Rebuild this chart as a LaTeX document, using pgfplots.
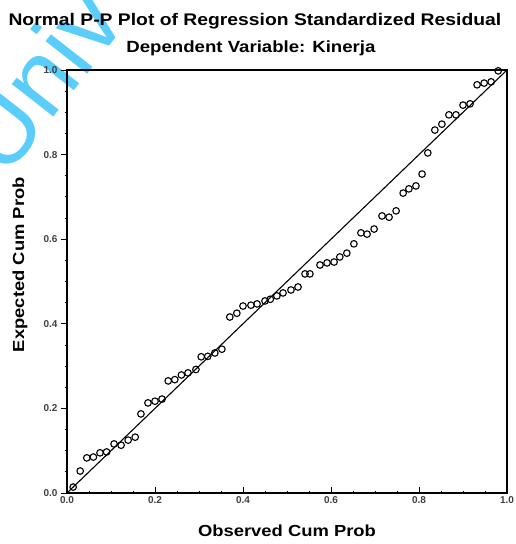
\documentclass[border=0pt]{standalone}
\usepackage{pgfplots}
\pgfplotsset{compat=1.18}
\usepackage{fontspec}
\setmainfont{Liberation Sans}
\newfontfamily\wide[FakeStretch=1.15]{Liberation Sans}
\definecolor{wm}{RGB}{90,205,250}

\pgfplotstableread{
x y
0.014 0.014
0.030 0.052
0.045 0.083
0.060 0.085
0.075 0.095
0.090 0.097
0.107 0.116
0.123 0.113
0.139 0.125
0.155 0.132
0.168 0.187
0.184 0.213
0.200 0.217
0.216 0.222
0.230 0.265
0.245 0.268
0.260 0.279
0.275 0.284
0.293 0.292
0.305 0.322
0.320 0.323
0.336 0.331
0.352 0.340
0.370 0.416
0.386 0.425
0.400 0.442
0.418 0.444
0.432 0.447
0.450 0.454
0.462 0.458
0.477 0.466
0.491 0.473
0.509 0.480
0.525 0.487
0.541 0.518
0.552 0.518
0.575 0.539
0.591 0.544
0.607 0.546
0.620 0.558
0.636 0.567
0.652 0.589
0.668 0.615
0.682 0.612
0.698 0.624
0.716 0.655
0.732 0.652
0.748 0.667
0.764 0.709
0.777 0.719
0.793 0.726
0.807 0.754
0.820 0.804
0.836 0.858
0.852 0.872
0.868 0.894
0.884 0.894
0.900 0.917
0.916 0.920
0.932 0.965
0.948 0.969
0.964 0.972
0.980 0.998
}\pp

\begin{document}
\begin{tikzpicture}
\useasboundingbox (-67pt,-51pt) rectangle (449pt,493pt);
% scanned watermark across the top-left corner (behind the chart)
\node[rotate=52, anchor=base west, inner sep=0pt, text=wm, font=\fontsize{100}{100}\selectfont] at (-62pt,313pt) {Univ};
\begin{axis}[
    scale only axis,
    width=440pt, height=423pt,
    xmin=0, xmax=1, ymin=0, ymax=1,
    xtick={0,0.2,0.4,0.6,0.8,1},
    ytick={0,0.2,0.4,0.6,0.8,1},
    minor tick num=3,
    tick pos=left,
    xtick align=inside,
    ytick align=outside,
    major tick length=6pt,
    minor tick length=2pt,
    tick style={black, line width=0.8pt},
    axis line style={line width=1.2pt},
    /pgf/number format/assume math mode=true,
    /pgf/number format/.cd, fixed, fixed zerofill, precision=1,
    /pgfplots/.cd,
    ticklabel style={font=\fontsize{10}{11}\selectfont\bfseries, text=black!75},
    xlabel={Observed Cum Prob},
    ylabel={Expected Cum Prob},
    label style={font=\wide\fontsize{16}{18}\selectfont\bfseries},
    xlabel style={at={(axis description cs:0.5,-0.1017)}, anchor=base},
    ylabel style={at={(axis description cs:-0.0977,0.54)}, anchor=base},
    clip=false,
]
\addplot[black, line width=1.1pt] coordinates {(0,0) (1,1)};
\addplot[only marks, mark=o, mark size=3.3pt, mark options={line width=1.1pt, black}] table[x=x, y=y] {\pp};
\node[anchor=base, font=\wide\fontsize{16.8}{18}\selectfont\bfseries] at (rel axis cs:0.427,1) [yshift=44pt] {Normal P-P Plot of Regression Standardized Residual};
\node[anchor=base, font=\wide\fontsize{16.2}{18}\selectfont\bfseries] at (rel axis cs:0.418,1) [yshift=17pt] {Dependent Variable: Kinerja};
\end{axis}
\end{tikzpicture}
\end{document}
